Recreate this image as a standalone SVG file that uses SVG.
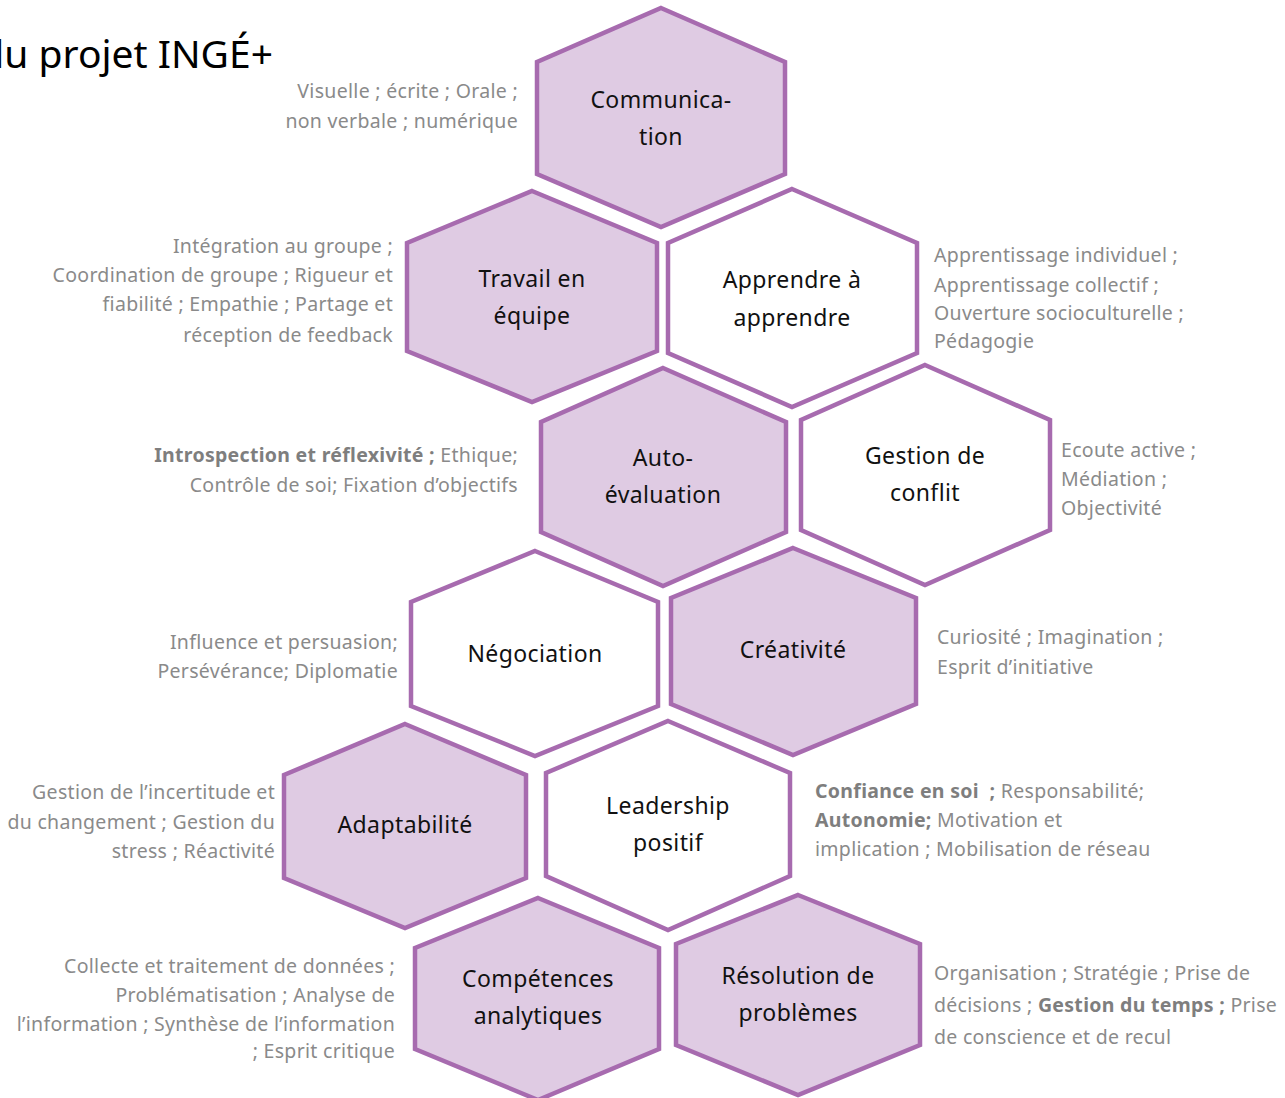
<svg xmlns="http://www.w3.org/2000/svg" width="1285" height="1098" viewBox="0 0 1285 1098">
<style>
.hex{stroke:#A76BAF;stroke-width:4.5;stroke-linejoin:miter}
.f{fill:#DFCBE3}
.w{fill:#FFFFFF}
.lbl{font-family:"Noto Sans","Open Sans","DejaVu Sans",sans-serif;font-size:23px;fill:#111;text-anchor:middle;letter-spacing:0.4px}
.d{font-family:"Noto Sans","Open Sans","DejaVu Sans",sans-serif;font-size:19.5px;fill:#8A8A8A;letter-spacing:0.3px}
.e{text-anchor:end}
.b{font-weight:bold;fill:#7E7E7E}
.title{font-family:"Noto Sans","Open Sans","DejaVu Sans",sans-serif;font-size:39px;fill:#000;text-anchor:end}
</style>
<rect width="1285" height="1098" fill="#FFFFFF"/>
<text class="title" x="273" y="68">du projet INGÉ+</text>

<g id="communication">
<polygon class="hex f" points="661,8 785,62 785,174 661,227 537,174 537,62"/>
<text class="lbl" x="661" y="108">Communica-</text>
<text class="lbl" x="661" y="145">tion</text>
<text class="d e" x="518" y="98">Visuelle ; écrite ; Orale ;</text>
<text class="d e" x="518" y="128">non verbale ; numérique</text>
</g>

<g id="travail-en-equipe">
<polygon class="hex f" points="532,191 657,243 657,351 532,402 407,351 407,243"/>
<text class="lbl" x="532" y="287">Travail en</text>
<text class="lbl" x="532" y="324">équipe</text>
<text class="d e" x="393" y="253">Intégration au groupe ;</text>
<text class="d e" x="393" y="282">Coordination de groupe ; Rigueur et</text>
<text class="d e" x="393" y="311">fiabilité ; Empathie ; Partage et</text>
<text class="d e" x="393" y="342">réception de feedback</text>
</g>

<g id="apprendre-a-apprendre">
<polygon class="hex w" points="792,189 917,243 917,353 792,407 668,353 668,243"/>
<text class="lbl" x="792" y="288">Apprendre à</text>
<text class="lbl" x="792" y="326">apprendre</text>
<text class="d" x="934" y="262">Apprentissage individuel ;</text>
<text class="d" x="934" y="292">Apprentissage collectif ;</text>
<text class="d" x="934" y="320">Ouverture socioculturelle ;</text>
<text class="d" x="934" y="348">Pédagogie</text>
</g>

<g id="auto-evaluation">
<polygon class="hex f" points="663,368 786,422 786,532 663,586 541,532 541,422"/>
<text class="lbl" x="663" y="466">Auto-</text>
<text class="lbl" x="663" y="503">évaluation</text>
<text class="d e" x="518" y="462"><tspan class="b">Introspection et réflexivité ;</tspan> Ethique;</text>
<text class="d e" x="518" y="492">Contrôle de soi; Fixation d’objectifs</text>
</g>

<g id="gestion-de-conflit">
<polygon class="hex w" points="925,365 1050,420 1050,530 925,585 801,530 801,420"/>
<text class="lbl" x="925" y="464">Gestion de</text>
<text class="lbl" x="925" y="501">conflit</text>
<text class="d" x="1061" y="457">Ecoute active ;</text>
<text class="d" x="1061" y="486">Médiation ;</text>
<text class="d" x="1061" y="515">Objectivité</text>
</g>

<g id="negociation">
<polygon class="hex w" points="535,551 658,602 658,706 535,756 411,706 411,602"/>
<text class="lbl" x="535" y="662">Négociation</text>
<text class="d e" x="398" y="649">Influence et persuasion;</text>
<text class="d e" x="398" y="678">Persévérance; Diplomatie</text>
</g>

<g id="creativite">
<polygon class="hex f" points="793,548 916,598 916,704 793,755 671,704 671,598"/>
<text class="lbl" x="793" y="658">Créativité</text>
<text class="d" x="937" y="644">Curiosité ; Imagination ;</text>
<text class="d" x="937" y="674">Esprit d’initiative</text>
</g>

<g id="adaptabilite">
<polygon class="hex f" points="405,724 526,775 526,878 405,928 284,878 284,775"/>
<text class="lbl" x="405" y="833">Adaptabilité</text>
<text class="d e" x="275" y="799">Gestion de l’incertitude et</text>
<text class="d e" x="275" y="829">du changement ; Gestion du</text>
<text class="d e" x="275" y="858">stress ; Réactivité</text>
</g>

<g id="leadership-positif">
<polygon class="hex w" points="668,721 790,773 790,876 668,930 546,876 546,773"/>
<text class="lbl" x="668" y="814">Leadership</text>
<text class="lbl" x="668" y="851">positif</text>
<text class="d" x="815" y="798"><tspan class="b">Confiance en soi&#160; ;</tspan> Responsabilité;</text>
<text class="d" x="815" y="827"><tspan class="b">Autonomie;</tspan> Motivation et</text>
<text class="d" x="815" y="856">implication ; Mobilisation de réseau</text>
</g>

<g id="competences-analytiques">
<polygon class="hex f" points="538,898 659,948 659,1049 538,1100 415,1049 415,948"/>
<text class="lbl" x="538" y="987">Compétences</text>
<text class="lbl" x="538" y="1024">analytiques</text>
<text class="d e" x="395" y="973">Collecte et traitement de données ;</text>
<text class="d e" x="395" y="1002">Problématisation ; Analyse de</text>
<text class="d e" x="395" y="1031">l’information ; Synthèse de l’information</text>
<text class="d e" x="395" y="1058">; Esprit critique</text>
</g>

<g id="resolution-de-problemes">
<polygon class="hex f" points="798,895 920,944 920,1045 798,1095 676,1045 676,944"/>
<text class="lbl" x="798" y="984">Résolution de</text>
<text class="lbl" x="798" y="1021">problèmes</text>
<text class="d" x="934" y="980">Organisation ; Stratégie ; Prise de</text>
<text class="d" x="934" y="1012">décisions ; <tspan class="b">Gestion du temps ;</tspan> Prise</text>
<text class="d" x="934" y="1044">de conscience et de recul</text>
</g>

<g id="connectors"/>
</svg>
